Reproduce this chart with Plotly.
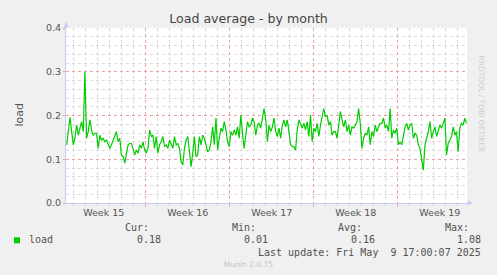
import pandas as pd
import plotly.graph_objects as go

# ---------------- data ----------------
load_values = [
    0.133, 0.171, 0.196, 0.163, 0.133, 0.148, 0.178, 0.155, 0.174, 0.186,
    0.163, 0.300, 0.148, 0.163, 0.190, 0.167, 0.155, 0.159, 0.159, 0.125,
    0.155, 0.144, 0.148, 0.140, 0.144, 0.136, 0.125, 0.133, 0.144, 0.152,
    0.163, 0.140, 0.148, 0.110, 0.106, 0.091, 0.114, 0.133, 0.136,
    0.136, 0.125, 0.110, 0.121, 0.114, 0.133, 0.125, 0.140, 0.121, 0.114,
    0.125, 0.167, 0.152, 0.155, 0.125, 0.152, 0.114, 0.133, 0.140, 0.152,
    0.129, 0.133, 0.125, 0.144, 0.133, 0.125, 0.152, 0.133, 0.136, 0.125,
    0.094, 0.087, 0.125, 0.144, 0.152, 0.117, 0.083, 0.114, 0.152, 0.106,
    0.110,
    0.152, 0.133, 0.155, 0.148, 0.133, 0.117, 0.121, 0.140, 0.174, 0.133,
    0.194, 0.121, 0.148, 0.171, 0.163, 0.186, 0.167, 0.140, 0.129, 0.163,
    0.155, 0.167, 0.155, 0.174, 0.148, 0.201, 0.159, 0.125, 0.155, 0.186,
    0.174, 0.178, 0.194, 0.186, 0.155, 0.178, 0.182, 0.171, 0.194, 0.216,
    0.190,
    0.140, 0.178, 0.163, 0.174, 0.194, 0.163, 0.152, 0.171, 0.148, 0.178,
    0.190, 0.174, 0.190, 0.163, 0.133, 0.129, 0.129, 0.121, 0.167, 0.190,
    0.178, 0.171, 0.182, 0.167, 0.186, 0.152, 0.201, 0.140, 0.171, 0.163,
    0.182, 0.152, 0.178, 0.194, 0.216, 0.197, 0.201, 0.178, 0.186, 0.155,
    0.163,
    0.163, 0.148, 0.178, 0.209, 0.190, 0.174, 0.190, 0.163, 0.178, 0.155,
    0.174, 0.171, 0.178, 0.186, 0.216, 0.182, 0.125, 0.148, 0.159, 0.155,
    0.174, 0.133, 0.163, 0.152, 0.178, 0.163, 0.174, 0.182, 0.182, 0.194,
    0.171, 0.178, 0.163, 0.216, 0.148, 0.167, 0.159, 0.171, 0.133, 0.140,
    0.133,
    0.155, 0.174, 0.182, 0.167, 0.178, 0.182, 0.148, 0.159, 0.155, 0.133,
    0.125, 0.102, 0.075, 0.133, 0.148, 0.163, 0.186, 0.148, 0.163, 0.174,
    0.152, 0.167, 0.178, 0.171, 0.182, 0.194, 0.110, 0.136, 0.144, 0.152,
    0.174, 0.155, 0.163, 0.117, 0.171, 0.182, 0.178, 0.194, 0.182,
]
sample_start = "2025-04-06 11:00"
sample_step = "199min"
times = pd.date_range(sample_start, periods=len(load_values), freq=sample_step)

range_start = "2025-04-06 09:39"
range_end = "2025-05-09 19:25"
week_lines = ["2025-04-13", "2025-04-20", "2025-04-27", "2025-05-04"]
week_label_times = ["2025-04-09 13:00", "2025-04-16 13:00", "2025-04-23 13:00",
                    "2025-04-30 13:00", "2025-05-07 13:00"]
week_labels = ["Week 15", "Week 16", "Week 17", "Week 18", "Week 19"]
y_ticks = [0.0, 0.1, 0.2, 0.3, 0.4]

series_name = "load"
stat_headers = ["Cur:", "Min:", "Avg:", "Max:"]
stat_values = ["0.18", "0.01", "0.16", "1.08"]
last_update = "Last update: Fri May\u00a0\u00a09 17:00:07 2025"
title_text = "Load average - by month"
credit_text = "Munin 2.0.75"
side_text = "RRDTOOL / TOBI OETIKER"

# daily grid positions (midnights), excluding week boundaries
day_lines = [d for d in pd.date_range("2025-04-07", "2025-05-09", freq="D")
             if d.strftime("%Y-%m-%d") not in week_lines]

# ---------------- style ----------------
W, H = 497, 275
L, R, T, B = 66, 30, 28, 72
PW, PH = W - L - R, H - T - B
AXIS_C = "#C6CBF3"
MAJ_C = "#EFA0A0"
MIN_C = "#D8D8D8"
TXT_C = "#555555"
LINE_C = "#00CC00"


def px(xp):
    return (xp - L) / PW


def py(yp):
    return (H - B - yp) / PH


fig = go.Figure()
fig.add_trace(go.Scatter(x=times, y=load_values, mode="lines",
                         line=dict(color=LINE_C, width=1.2),
                         hoverinfo="skip", xaxis="x", yaxis="y"))
fig.add_trace(go.Scatter(x=[range_start, range_end], y=[None, None],
                         mode="lines", xaxis="x2", yaxis="y",
                         hoverinfo="skip", showlegend=False))

fig.update_layout(
    width=W, height=H,
    margin=dict(l=L, r=R, t=T, b=B),
    paper_bgcolor="#F0F0F0", plot_bgcolor="#FFFFFF",
    showlegend=False,
    font=dict(family="DejaVu Sans", color=TXT_C),
    title=dict(text=title_text, x=0.5, xref="container", xanchor="center",
               y=1 - 19 / H, yref="container", yanchor="middle",
               font=dict(size=12.6, color="#444444", family="DejaVu Sans")),
    xaxis=dict(type="date", range=[range_start, range_end],
               tickmode="array", tickvals=week_label_times, ticktext=week_labels,
               showgrid=False, ticks="", zeroline=False,
               showline=True, linecolor=AXIS_C, linewidth=1,
               tickfont=dict(size=9.5, color=TXT_C), ticklabelstandoff=1),
    xaxis2=dict(type="date", range=[range_start, range_end], overlaying="x",
                anchor="y", side="bottom",
                tickmode="array", tickvals=week_lines,
                showticklabels=False, showline=False,
                showgrid=True, gridcolor=MAJ_C, griddash="dot", gridwidth=1,
                ticks="outside", ticklen=3, tickcolor=MAJ_C,
                minor=dict(tickmode="array", tickvals=day_lines, showgrid=True,
                           gridcolor=MIN_C, griddash="dot", gridwidth=1,
                           ticks="outside", ticklen=2, tickcolor=MIN_C)),
    yaxis=dict(range=[0, 0.4], tickmode="array", tickvals=y_ticks,
               tickformat=".1f", showgrid=True, gridcolor=MAJ_C, griddash="dot",
               zeroline=False, showline=True, linecolor=AXIS_C, linewidth=1,
               ticks="outside", ticklen=2, tickcolor=MAJ_C,
               tickfont=dict(size=9.5, color=TXT_C),
               minor=dict(dtick=0.02, tick0=0, showgrid=True, gridcolor=MIN_C,
                          griddash="dot", gridwidth=1)),
)

# axis arrows
fig.add_shape(type="path", xref="paper", yref="paper",
              path=f"M {px(63.5)},{py(27.5)} L {px(68.5)},{py(27.5)} L {px(66)},{py(21.5)} Z",
              fillcolor=AXIS_C, line=dict(width=0))
fig.add_shape(type="path", xref="paper", yref="paper",
              path=f"M {px(467.5)},{py(200.5)} L {px(467.5)},{py(205.5)} L {px(473.5)},{py(203)} Z",
              fillcolor=AXIS_C, line=dict(width=0))

# y label
fig.add_annotation(text=series_name, xref="paper", yref="paper",
                   x=px(10), y=py(115), textangle=-90, showarrow=False,
                   font=dict(size=11, color=TXT_C, family="DejaVu Sans"))

# side text
fig.add_annotation(text=side_text, xref="paper", yref="paper",
                   x=px(488), y=py(53.5), textangle=90, showarrow=False,
                   font=dict(size=7.5, color="#CDCDCD", family="DejaVu Sans"))

# legend
mono = dict(family="DejaVu Sans Mono", size=10, color="#505050")
fig.add_shape(type="rect", xref="paper", yref="paper",
              x0=px(14), x1=px(20), y0=py(243.3), y1=py(237.3),
              fillcolor=LINE_C, line=dict(width=0))
fig.add_annotation(text=series_name, xref="paper", yref="paper",
                   x=px(26.5), y=py(239.5), xanchor="left", yanchor="middle",
                   showarrow=False, font=mono)
header_right = [150.5, 257.5, 363.5, 470.5]
value_right = [162.8, 269.5, 376.5, 483]
for hx, h in zip(header_right, stat_headers):
    fig.add_annotation(text=h, xref="paper", yref="paper", x=px(hx), y=py(227.5),
                       xanchor="right", yanchor="middle", showarrow=False, font=mono)
for vx, v in zip(value_right, stat_values):
    fig.add_annotation(text=v, xref="paper", yref="paper", x=px(vx), y=py(239.5),
                       xanchor="right", yanchor="middle", showarrow=False, font=mono)
fig.add_annotation(text=last_update, xref="paper", yref="paper",
                   x=px(483), y=py(252), xanchor="right", yanchor="middle",
                   showarrow=False, font=mono)
fig.add_annotation(text=credit_text, xref="paper", yref="paper",
                   x=px(248), y=py(264), xanchor="center", yanchor="middle",
                   showarrow=False,
                   font=dict(family="DejaVu Sans", size=7.5, color="#C4C4C4"))

fig.write_html("out.html")
